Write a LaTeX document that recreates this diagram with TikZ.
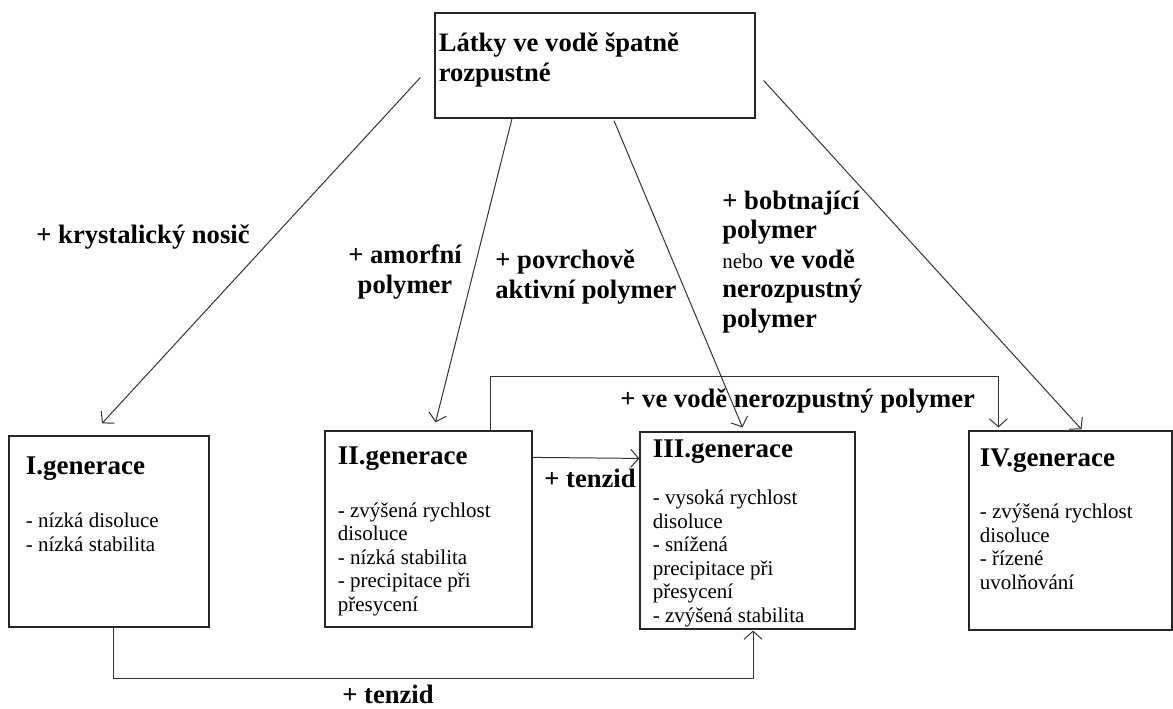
\documentclass[tikz,border=0pt]{standalone}
\usepackage{fontspec}
\setmainfont{Liberation Serif}
\usetikzlibrary{arrows.meta,calc,positioning}
\tikzset{%
	genbox/.style = {draw=black!85, line width=0.6pt, rectangle, inner sep=0pt}, % box
	head/.style   = {font=\fontsize{13.5}{15}\selectfont\bfseries, inner sep=0pt, anchor=base west}, % heading
	items/.style  = {font=\fontsize{10.5}{11.75}\selectfont, inner sep=0pt, align=left, anchor=base west}, % list (base = last line)
	lbl/.style    = {font=\fontsize{13.3}{14.8}\selectfont\bfseries, inner sep=0pt, align=left, anchor=base west}, % label
	arrow/.style  = {line width=0.5pt, draw=black!80, -{Straight Barb[length=4pt,width=9pt]}},
}

\begin{document}
\begin{tikzpicture}[x=0.5pt,y=-0.5pt]
	\useasboundingbox (0,0) rectangle (1173,708);
	\node[genbox,minimum width=160pt,minimum height=52.5pt] (src) at (595,65.5) {};
	\node[genbox,minimum width=100pt,minimum height=95.5pt] (g1) at (109,531.5) {};
	\node[genbox,minimum width=103.5pt,minimum height=98pt] (g2) at (428.5,529) {};
	\node[genbox,minimum width=107.5pt,minimum height=98.5pt] (g3) at (747.5,530.5) {};
	\node[genbox,minimum width=101.5pt,minimum height=99.5pt] (g4) at (1070.5,530.5) {};
	
	\node[lbl] (srct) at ($(src.north west)+(4,69)$) {Látky ve vodě špatně\\rozpustné};
	\node[head] (h1) at ($(g1.north west)+(17,39)$) {I.generace};
	\node[items] (l1) at ($(g1.north west)+(17,116)$) {- nízká disoluce\\- nízká stabilita};
	\node[head] (h2) at ($(g2.north west)+(13,34)$) {II.generace};
	\node[items] (l2) at ($(g2.north west)+(13,181)$) {- zvýšená rychlost\\disoluce\\- nízká stabilita\\- precipitace při\\přesycení};
	\node[head] (h3) at ($(g3.north west)+(13,26)$) {III.generace};
	\node[items] (l3) at ($(g3.north west)+(13,191)$) {- vysoká rychlost\\disoluce\\- snížená\\precipitace při\\přesycení\\- zvýšená stabilita};
	\node[head] (h4) at ($(g4.north west)+(11,36)$) {IV.generace};
	\node[items] (l4) at ($(g4.north west)+(11,159)$) {- zvýšená rychlost\\disoluce\\- řízené\\uvolňování};
	
	\node[lbl] (krys) at (36,243) {+ krystalický nosič};
	\node[lbl,align=center,anchor=base] (amor) at (405,293) {+ amorfní\\polymer};
	\node[lbl] (povr) at (495,298) {+ povrchově\\aktivní polymer};
	\node[lbl,font=\fontsize{13.3}{14.75}\selectfont\bfseries] (bobt) at (722,327) {+ bobtnající\\polymer\\{\mdseries\fontsize{10.5}{11}\selectfont nebo} ve vodě\\nerozpustný\\polymer};
	\node[lbl] (nerz) at (620,407) {+ ve vodě nerozpustný polymer};
	\node[lbl] (tnz1) at (544,487) {+ tenzid};
	\node[lbl] (tnz2) at (342,703) {+ tenzid};
	
	\draw[arrow] ($(src.west)+(-14,12)$) -- ($(g1.north)+(-7,-12)$);
	\draw[arrow] ($(src.south)+(-83,0)$) -- ($(g2.north)+(7,-8)$);
	\draw[arrow] ($(src.south)+(19,2)$) -- ($(g3.north)+(-5,-4)$);
	\draw[arrow] ($(src.east)+(8,15)$) -- ($(g4.north)+(11,-1)$);
	\draw[arrow] ($(g2.north east)+(0,27)$) -- ($(g3.north west)+(0,27)$);
	\draw[arrow] ($(g2.north)+(62,0)$) -- ++(0,-54) -| ($(g4.north west)+(30,-3)$);
	\draw[arrow] ($(g1.south)+(4,0)$) -- ++(0,51) -| ($(g3.south)+(5.5,1)$);
\end{tikzpicture}
\end{document}
